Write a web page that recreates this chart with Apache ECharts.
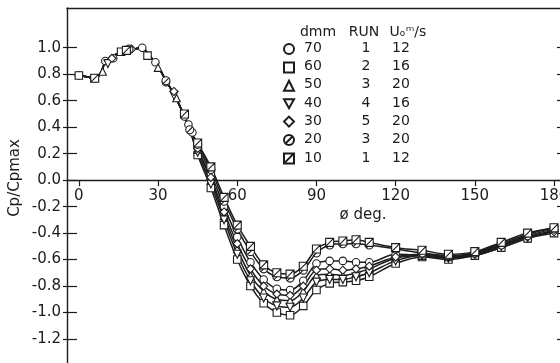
<!DOCTYPE html>
<html><head><meta charset="utf-8">
<script src="https://cdn.jsdelivr.net/npm/echarts@6/dist/echarts.min.js"></script>
<style>html,body{margin:0;padding:0;background:#fff}#c{width:560px;height:363px}</style>
</head><body><div id="c"></div>
<script>
// ---- tick labels ----
const xTicks = [0, 30, 60, 90, 120, 150, 180];
const yTicks = [-1.2, -1.0, -0.8, -0.6, -0.4, -0.2, 0.0, 0.2, 0.4, 0.6, 0.8, 1.0];

// ---- legend table ----
const legendDmm = [70, 60, 50, 40, 30, 20, 10];
const legendRun = [1, 2, 3, 4, 5, 3, 1];
const legendSpeed = [12, 16, 20, 16, 20, 20, 12];

// ---- common front part of all curves (phi deg, Cp/Cpmax) ----
const baseAngles = [0, 3, 6, 8, 10, 12, 15, 18, 21, 24, 26, 28, 30, 33, 36, 38, 40, 42];
const baseValues = [0.79, 0.78, 0.77, 0.80, 0.89, 0.92, 0.96, 0.98, 0.99, 1.0, 0.96, 0.91, 0.86, 0.75, 0.65, 0.57, 0.48, 0.38];

// ---- separated rear parts (same angles for all runs) ----
const tailAngles = [45, 50, 55, 60, 65, 70, 75, 80, 85, 90, 95, 100, 105, 110, 120, 130, 140, 150, 160, 170, 180];
const tail70 = [0.26, 0.05, -0.20, -0.43, -0.62, -0.75, -0.82, -0.83, -0.76, -0.63, -0.61, -0.61, -0.62, -0.62, -0.56, -0.57, -0.59, -0.57, -0.51, -0.44, -0.38];
const tail60 = [0.19, -0.06, -0.34, -0.60, -0.80, -0.93, -1.00, -1.02, -0.95, -0.83, -0.78, -0.77, -0.76, -0.73, -0.63, -0.58, -0.60, -0.57, -0.51, -0.44, -0.40];
const tail50 = [0.23, 0.00, -0.27, -0.52, -0.72, -0.84, -0.90, -0.91, -0.84, -0.72, -0.71, -0.72, -0.70, -0.67, -0.59, -0.57, -0.58, -0.55, -0.48, -0.41, -0.36];
const tail40 = [0.21, -0.03, -0.30, -0.56, -0.76, -0.89, -0.95, -0.96, -0.89, -0.77, -0.75, -0.75, -0.73, -0.70, -0.61, -0.57, -0.59, -0.56, -0.50, -0.43, -0.38];
const tail30 = [0.24, 0.02, -0.24, -0.48, -0.67, -0.80, -0.86, -0.87, -0.80, -0.68, -0.67, -0.68, -0.67, -0.65, -0.58, -0.56, -0.58, -0.56, -0.49, -0.43, -0.39];
const tail20 = [0.27, 0.08, -0.16, -0.37, -0.54, -0.67, -0.73, -0.74, -0.68, -0.55, -0.49, -0.48, -0.48, -0.49, -0.52, -0.55, -0.57, -0.55, -0.49, -0.42, -0.37];
const tail10 = [0.28, 0.10, -0.13, -0.34, -0.50, -0.64, -0.70, -0.71, -0.65, -0.52, -0.47, -0.46, -0.45, -0.47, -0.51, -0.53, -0.56, -0.54, -0.47, -0.40, -0.36];

// ---- measured points on the common front part, per run ----
const lead70 = [[0, 0.79], [10, 0.90], [13, 0.92], [24, 1.0], [29, 0.89], [33, 0.74], [40, 0.48], [41.5, 0.42], [43, 0.36]];
const lead60 = [[0, 0.79], [6, 0.77], [16, 0.97], [26, 0.94]];
const lead50 = [[9, 0.82], [30, 0.85], [37, 0.62]];
const lead40 = [[11, 0.88], [36, 0.64]];
const lead30 = [[12.5, 0.92], [20, 0.99], [36, 0.67]];
const lead20 = [[19, 0.99], [33, 0.75], [42, 0.38]];
const lead10 = [[6, 0.77], [18, 0.98], [40, 0.50]];

const tails = [tail70, tail60, tail50, tail40, tail30, tail20, tail10];
const leads = [lead70, lead60, lead50, lead40, lead30, lead20, lead10];
const symbols = [
  'circle',
  'rect',
  'triangle',
  'path://M0,0 L10,0 L5,9 Z',
  'path://M5,0 L10,5 L5,10 L0,5 Z',
  'path://M10,5 A5,5 0 1,1 0,5 A5,5 0 1,1 10,5 Z M1.8,8.2 L8.2,1.8',
  'path://M0,0 L10,0 L10,10 L0,10 Z M0,10 L10,0'
];

const INK = '#1c1c1c';
const FONT = '"DejaVu Sans", sans-serif';

const series = [];
legendDmm.forEach((d, i) => {
  const line = baseAngles.map((a, k) => [a, baseValues[k]])
    .concat(tailAngles.map((a, k) => [a, tails[i][k]]));
  series.push({
    type: 'line', name: 'line' + d, data: line, smooth: 0.35,
    showSymbol: false, silent: true, z: 2,
    lineStyle: { color: INK, width: 1.5 }
  });
  series.push({
    type: 'scatter', name: String(d),
    data: leads[i].concat(tailAngles.map((a, k) => [a, tails[i][k]])),
    symbol: symbols[i], symbolSize: i >= 3 ? 8 : 7.5, z: 3,
    itemStyle: { color: '#fff', borderColor: INK, borderWidth: 1.1, opacity: 1 }
  });
});

const graphics = [];
const rowTop = 48, rowStep = 18.35;
const hdr = (t, x) => ({ type: 'text', x: x, y: 32, style: { text: t, font: '14px ' + FONT, fill: INK, align: 'center', verticalAlign: 'middle' } });
graphics.push(hdr('dmm', 318), hdr('RUN', 364), hdr('U\u2092\u1D50/s', 408));
legendDmm.forEach((d, i) => {
  const y = rowTop + i * rowStep;
  [[d, 313], [legendRun[i], 366], [legendSpeed[i], 401]].forEach(([t, x]) => {
    graphics.push({ type: 'text', x: x, y: y, style: { text: String(t), font: '14px ' + FONT, fill: INK, align: 'center', verticalAlign: 'middle' } });
  });
});
graphics.push({ type: 'text', x: 363, y: 215, style: { text: '\u00F8 deg.', font: '15px ' + FONT, fill: INK, align: 'center', verticalAlign: 'middle' } });
graphics.push({ type: 'text', x: 15, y: 178, rotation: Math.PI / 2, style: { text: 'Cp/Cpmax', font: '15px ' + FONT, fill: INK, align: 'center', verticalAlign: 'middle' } });

const Y_MIN = -1.4, Y_MAX = 1.3, GRID_TOP = 8, GRID_H = 357.5;
const yCommon = { type: 'value', min: Y_MIN, max: Y_MAX, splitLine: { show: false } };
const xCommon = { type: 'value', min: -4.5, max: 183.4, splitLine: { show: false } };
// shift of the bottom x axis up to the zero line of the y scale
const zeroOffset = -(GRID_H * (0 - Y_MIN) / (Y_MAX - Y_MIN));

const chart = echarts.init(document.getElementById('c'), null, { renderer: 'canvas' });
chart.setOption({
  animation: false,
  backgroundColor: '#fff',
  grid: { left: 67, top: GRID_TOP, width: 496, height: GRID_H, containLabel: false, outerBoundsMode: 'none' },
  xAxis: [
    Object.assign({}, xCommon, {
      position: 'bottom', offset: zeroOffset,
      axisLine: { show: true, onZero: false, lineStyle: { color: INK, width: 1.4 } },
      axisTick: { show: true, inside: false, length: 6, customValues: xTicks, lineStyle: { color: INK, width: 1.2 } },
      axisLabel: { show: true, customValues: xTicks, margin: 8, color: INK, fontSize: 15, fontFamily: FONT }
    }),
    Object.assign({}, xCommon, {
      position: 'top',
      axisLine: { show: true, onZero: false, lineStyle: { color: INK, width: 1.4 } },
      axisTick: { show: false }, axisLabel: { show: false }
    })
  ],
  yAxis: [
    Object.assign({}, yCommon, {
      position: 'left',
      axisLine: { show: true, onZero: false, lineStyle: { color: INK, width: 1.4 } },
      axisTick: { show: true, inside: true, length: 10, customValues: yTicks, lineStyle: { color: INK, width: 1.2 } },
      axisLabel: { show: true, customValues: yTicks, margin: 6, color: INK, fontSize: 15, fontFamily: FONT,
        formatter: v => v.toFixed(1) }
    }),
    Object.assign({}, yCommon, {
      position: 'left',
      axisLine: { show: false, onZero: false },
      axisTick: { show: true, inside: false, length: 4, customValues: yTicks, lineStyle: { color: INK, width: 1.2 } },
      axisLabel: { show: false }
    }),
    Object.assign({}, yCommon, {
      position: 'right',
      axisLine: { show: true, onZero: false, lineStyle: { color: INK, width: 1.4 } },
      axisTick: { show: true, inside: true, length: 6, customValues: yTicks, lineStyle: { color: INK, width: 1.2 } },
      axisLabel: { show: false }
    })
  ],
  legend: {
    data: legendDmm.map(String), orient: 'vertical', left: 283, top: 43, padding: 0,
    itemWidth: 10, itemHeight: 10, itemGap: 6.4, selectedMode: false,
    formatter: () => '', textStyle: { fontSize: 6, lineHeight: 8 }
  },
  series: series,
  graphic: graphics
});
</script></body></html>
